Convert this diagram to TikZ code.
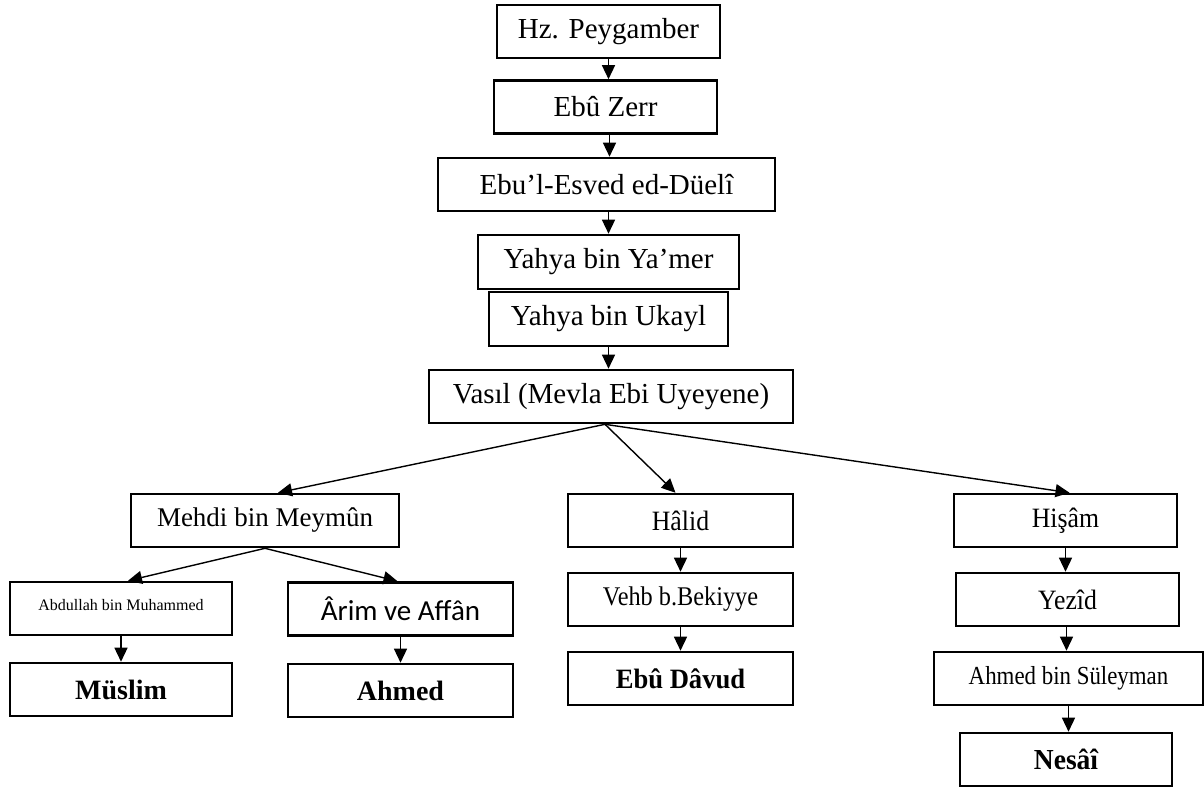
\documentclass[tikz,border=0pt]{standalone}
\usepackage{fontspec}
\usepackage{graphicx}
\setmainfont{Liberation Serif}
\newfontfamily\calib{Carlito}
\usetikzlibrary{arrows.meta}
\tikzset{
  box/.style={draw=black, line width=2.6pt, fill=white, inner sep=0pt, align=center,
    font=\fontsize{29}{34}\selectfont},
  std/.style={box, minimum width=223pt, minimum height=53pt},
  arr/.style={line width=1.4pt, -{Triangle[length=14pt,width=13pt]}}
}
\begin{document}
\begin{tikzpicture}[x=1pt,y=-1pt]
\useasboundingbox (0,0) rectangle (1204,788);
% top chain
\node[std] (hz) at (608.5,31.5) {Hz. Peygamber};
\node[std] (zerr) at (605.5,107) {Eb\^u Zerr};
\node[box, minimum width=337pt, minimum height=53pt] (esved) at (606.5,184.5) {Ebu’l-Esved ed-Düel\^i};
\node[box, minimum width=261pt, minimum height=54pt] (yamer) at (608.5,262) {Yahya bin Ya’mer};
\node[box, minimum width=239pt, minimum height=54pt] (ukayl) at (608.5,319) {Yahya bin Ukayl};
\node[box, minimum width=364pt, minimum height=53pt] (vasil) at (611,396.5) {Vas\i l (Mevla Ebi Uyeyene)};
% second level
\node[box, minimum width=268pt, minimum height=53pt, font=\fontsize{27}{32}\selectfont] (mehdi) at (265,520.5) {Mehdi bin Meym\^un};
\node[box, minimum width=225pt, minimum height=53pt, font=\fontsize{28}{32}\selectfont] (halid) at (680.5,520.5) {\scalebox{0.92}[1]{H\^alid}};
\node[std, font=\fontsize{28}{32}\selectfont] (hisam) at (1065.5,520.5) {\scalebox{0.92}[1]{Hi\c{s}\^am}};
% third level
\node[std, minimum width=222pt, font=\fontsize{16}{19}\selectfont] (abd) at (121,608.5) {\raisebox{7pt}{Abdullah bin Muhammed}};
\node[box, minimum width=225pt, minimum height=53pt, font=\calib\fontsize{29}{34}\selectfont] (arim) at (400.5,609) {\^Arim ve Aff\^an};
\node[box, minimum width=225pt, minimum height=53pt, font=\fontsize{27}{32}\selectfont] (vehb) at (680.5,599.5) {\scalebox{0.9}[1]{Vehb b.Bekiyye}};
\node[std, font=\fontsize{28}{32}\selectfont] (yezid) at (1067.5,599.5) {\scalebox{0.92}[1]{Yez\^id}};
% fourth level
\node[std, minimum width=222pt, font=\bfseries\fontsize{28}{32}\selectfont] (muslim) at (121,689.5) {Müslim};
\node[box, minimum width=225pt, minimum height=53pt, font=\bfseries\fontsize{28}{32}\selectfont] (ahmed) at (400.5,690.5) {Ahmed};
\node[box, minimum width=225pt, minimum height=53pt, font=\bfseries\fontsize{28}{32}\selectfont] (davud) at (680.5,678.5) {\scalebox{0.95}[1]{Eb\^u D\^avud}};
\node[box, minimum width=269pt, minimum height=53pt, font=\fontsize{26}{31}\selectfont] (ahmsul) at (1068.5,678.5) {\scalebox{0.88}[1]{Ahmed bin Süleyman}};
\node[box, minimum width=212pt, minimum height=53pt, font=\bfseries\fontsize{29}{34}\selectfont] (nesai) at (1066,759.5) {\scalebox{0.95}[1]{Nes\^a\^i}};
% connectors
\coordinate (vs) at ([xshift=-6pt]vasil.south);
\draw[arr] (hz.south) -- (hz.south |- zerr.north);
\draw[arr] ([xshift=4pt]zerr.south) -- ([xshift=4pt]zerr.south |- esved.north);
\draw[arr] ([xshift=2pt]esved.south) -- ([xshift=2pt]esved.south |- yamer.north);
\draw[arr] (ukayl.south) -- (ukayl.south |- vasil.north);
\draw[arr] (vs) -- ([xshift=13pt]mehdi.north);
\draw[arr] (vs) -- ([xshift=-5pt]halid.north);
\draw[arr] (vs) -- ([xshift=4pt]hisam.north);
\draw[arr] (mehdi.south) -- ([xshift=7pt]abd.north);
\draw[arr] (mehdi.south) -- ([xshift=-3pt]arim.north);
\draw[arr] (abd.south) -- (abd.south |- muslim.north);
\draw[arr] (arim.south) -- (arim.south |- ahmed.north);
\draw[arr] (halid.south) -- (halid.south |- vehb.north);
\draw[arr] (vehb.south) -- (vehb.south |- davud.north);
\draw[arr] (hisam.south) -- (hisam.south |- yezid.north);
\draw[arr] ([xshift=-1pt]yezid.south) -- ([xshift=-1pt]yezid.south |- ahmsul.north);
\draw[arr] (ahmsul.south) -- (ahmsul.south |- nesai.north);
\end{tikzpicture}
\end{document}
